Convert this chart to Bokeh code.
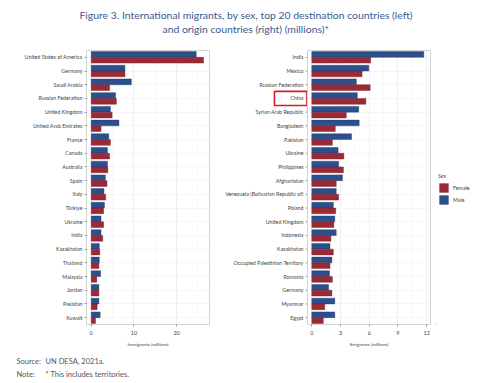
from bokeh.plotting import figure
from bokeh.layouts import column, row
from bokeh.models import (Range1d, FactorRange, ColumnDataSource, Legend, LegendItem,
                          FixedTicker)
from bokeh.transform import dodge
from bokeh.embed import file_html
from bokeh.resources import INLINE
from bokeh.core.properties import value

# ---------------- data (millions) ----------------
dest_countries = ["United States of America", "Germany", "Saudi Arabia", "Russian Federation",
                  "United Kingdom", "United Arab Emirates", "France", "Canada", "Australia",
                  "Spain", "Italy", "Türkiye", "Ukraine", "India", "Kazakhstan", "Thailand",
                  "Malaysia", "Jordan", "Pakistan", "Kuwait"]
dest_male = [24.6, 7.9, 9.4, 5.7, 4.5, 6.5, 4.1, 3.8, 3.8, 3.3,
             3.0, 3.1, 2.3, 2.3, 1.9, 1.9, 2.2, 1.8, 1.8, 2.1]
dest_female = [26.3, 7.9, 4.3, 5.9, 4.9, 2.3, 4.5, 4.3, 3.9, 3.7,
               3.4, 2.9, 2.9, 2.7, 2.0, 1.8, 1.3, 1.8, 1.4, 1.0]

orig_countries = ["India", "Mexico", "Russian Federation", "China", "Syrian Arab Republic",
                  "Bangladesh", "Pakistan", "Ukraine", "Philippines", "Afghanistan",
                  "Venezuela (Bolivarian Republic of)", "Poland", "United Kingdom", "Indonesia",
                  "Kazakhstan", "Occupied Palestinian Territory", "Romania", "Germany",
                  "Myanmar", "Egypt"]
orig_male = [11.7, 5.95, 4.65, 4.75, 4.9, 4.95, 4.15, 2.75, 2.8, 3.2,
             2.55, 2.25, 2.4, 2.55, 1.9, 2.1, 1.85, 1.75, 2.4, 2.4]
orig_female = [6.15, 5.25, 6.1, 5.65, 3.6, 2.45, 2.15, 3.35, 3.3, 2.55,
               2.8, 2.5, 2.3, 2.0, 2.25, 1.9, 2.15, 2.1, 1.35, 1.2]

left_ticks = [0, 10, 20]
left_minor = [5, 15, 25]
right_ticks = [0, 3, 6, 9, 12]
right_minor = [1.5, 4.5, 7.5, 10.5]
legend_labels = ["Female", "Male"]
highlight = "China"

FEMALE = "#9a2b36"
MALE = "#2c4f8d"
FONT = "Lato"
TITLE_COL = "#3a5a8c"
LABEL_COL = "#444444"
TICK_COL = "#555555"
PANEL_H = 307


def panel(countries, male, female, xr, ticks, minor, xlabel, width, bl, br, y_axis=True):
    src = ColumnDataSource(dict(country=countries, male=male, female=female))
    p = figure(y_range=FactorRange(factors=list(reversed(countries))),
               x_range=Range1d(*xr), width=width, height=PANEL_H,
               min_border_left=bl, min_border_right=br, min_border_top=5,
               min_border_bottom=28, output_backend="svg", toolbar_location=None)
    p.hbar(y=dodge("country", 0.21, range=p.y_range), right="male", left=0,
           height=0.42, source=src, fill_color=MALE, line_color="#1e3560",
           line_width=0.4)
    p.hbar(y=dodge("country", -0.21, range=p.y_range), right="female", left=0,
           height=0.42, source=src, fill_color=FEMALE, line_color="#6a1c25",
           line_width=0.4)
    p.xaxis.ticker = FixedTicker(ticks=ticks, minor_ticks=minor)
    p.xgrid.ticker = FixedTicker(ticks=ticks, minor_ticks=minor)
    p.xgrid.grid_line_color = "#e6e6e6"
    p.xgrid.grid_line_width = 0.6
    p.xgrid.minor_grid_line_color = "#f0f0f0"
    p.xgrid.minor_grid_line_width = 0.5
    p.ygrid.grid_line_color = "#ececec"
    p.ygrid.grid_line_width = 0.5
    p.outline_line_color = "#c8c8c8"
    p.outline_line_width = 0.8
    for ax in (p.xaxis[0], p.yaxis[0]):
        ax.axis_line_color = None
        ax.major_tick_line_color = TICK_COL
        ax.major_tick_line_width = 0.6
        ax.major_tick_out = 2
        ax.major_tick_in = 0
        ax.minor_tick_line_color = None
        ax.major_label_text_font = FONT
        ax.major_label_text_color = LABEL_COL
        ax.major_label_standoff = 2
    p.yaxis.major_label_text_font_size = "5.3px"
    if not y_axis:
        p.yaxis.visible = False
    p.xaxis.major_label_text_font_size = "5.5px"
    p.xaxis.axis_label = xlabel
    p.xaxis.axis_label_text_font = FONT
    p.xaxis.axis_label_text_font_size = "4.6px"
    p.xaxis.axis_label_text_font_style = "normal"
    p.xaxis.axis_label_text_color = LABEL_COL
    p.xaxis.axis_label_standoff = 3
    return p


left = panel(dest_countries, dest_male, dest_female, (-1.1, 27.7),
             left_ticks, left_minor, "Immigrants (millions)", 216, 86, 7)
right = panel(orig_countries, orig_male, orig_female, (-0.45, 12.4),
              right_ticks, right_minor, "Emigrants (millions)", 129, 0, 6, y_axis=False)

# category labels and ticks of the right panel, with the red box around "China"
rlab = figure(width=91, height=PANEL_H, x_range=Range1d(0, 91), y_range=right.y_range,
              x_axis_type=None, y_axis_type=None, min_border_left=0, min_border_right=0,
              min_border_top=5, min_border_bottom=28,
              output_backend="svg", toolbar_location=None)
rlab.outline_line_color = None
rlab.grid.grid_line_color = None
n = len(orig_countries)
rlab.segment(x0=[89] * n, x1=[91] * n, y0=orig_countries, y1=orig_countries,
             line_color=TICK_COL, line_width=0.6)
rlab.text(x=[87] * n, y=orig_countries, text=orig_countries,
          text_font=value(FONT), text_font_size="5.3px", text_color=LABEL_COL,
          text_align="right", text_baseline="middle")
rlab.rect(x=[74.2], y=[highlight], width=[32.5], height=[1.03], fill_alpha=0,
          line_color="#d11f26", line_width=1.6)

# legend figure
lfig = figure(width=60, height=PANEL_H, x_range=Range1d(0, 1), y_range=Range1d(0, 1),
              x_axis_type=None, y_axis_type=None, min_border=0,
              output_backend="svg", toolbar_location=None)
lfig.outline_line_color = None
lfig.grid.grid_line_color = None
r_f = lfig.hbar(y=[-10], right=[-10], left=[-11], height=0.1, fill_color=FEMALE,
                line_color="#6a1c25", line_width=0.4)
r_m = lfig.hbar(y=[-10], right=[-10], left=[-11], height=0.1, fill_color=MALE,
                line_color="#1e3560", line_width=0.4)
legend = Legend(items=[LegendItem(label=legend_labels[0], renderers=[r_f]),
                       LegendItem(label=legend_labels[1], renderers=[r_m])],
                title="Sex", location=(2, 119))
legend.title_text_font = FONT
legend.title_text_font_size = "5.5px"
legend.title_text_color = LABEL_COL
legend.title_standoff = 3
legend.label_text_font = FONT
legend.label_text_font_size = "5.3px"
legend.label_text_color = LABEL_COL
legend.glyph_width = 11
legend.glyph_height = 11
legend.label_height = 11
legend.label_standoff = 4
legend.spacing = 1
legend.padding = 2
legend.margin = 0
legend.border_line_color = None
legend.background_fill_alpha = 0
lfig.add_layout(legend)

# title
tfig = figure(width=496, height=45, x_range=Range1d(0, 496), y_range=Range1d(45, 0),
              x_axis_type=None, y_axis_type=None, min_border=0,
              output_backend="svg", toolbar_location=None)
tfig.outline_line_color = None
tfig.grid.grid_line_color = None
tfig.text(x=[79, 162], y=[14, 28],
          text=["Figure 3. International migrants, by sex, top 20 destination countries (left)",
                "and origin countries (right) (millions)*"],
          text_font=value(FONT), text_font_size="10.4px", text_color=TITLE_COL,
          text_align="left", text_baseline="middle")

# footer
ffig = figure(width=496, height=31, x_range=Range1d(0, 496), y_range=Range1d(31, 0),
              x_axis_type=None, y_axis_type=None, min_border=0,
              output_backend="svg", toolbar_location=None)
ffig.outline_line_color = None
ffig.grid.grid_line_color = None
ffig.text(x=[16, 45, 16, 45], y=[9, 9, 22, 22],
          text=["Source:", "UN DESA, 2021a.", "Note:", "* This includes territories."],
          text_font=value(FONT), text_font_size="7.5px", text_color="#555555",
          text_align="left", text_baseline="middle")

layout = column(tfig, row(left, rlab, right, lfig, spacing=0), ffig, spacing=0)
open("out.html", "w").write(file_html(layout, INLINE))
